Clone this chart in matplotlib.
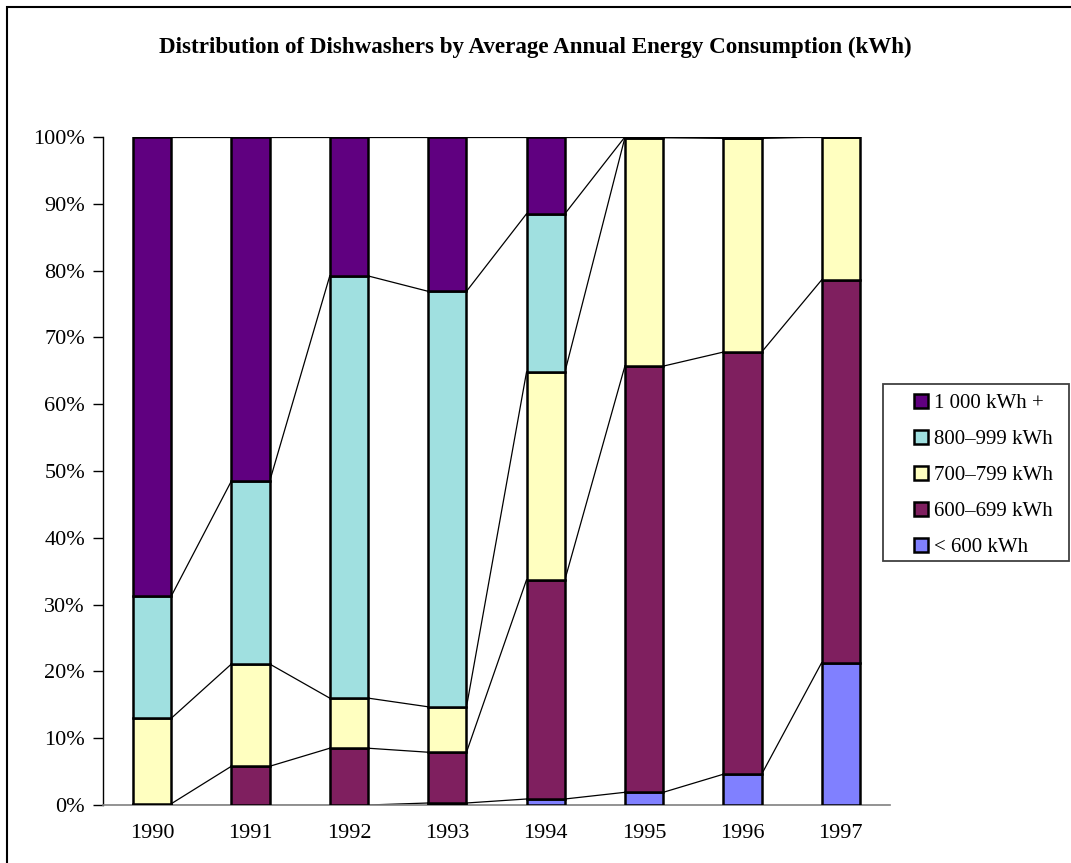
import numpy as np
import matplotlib.pyplot as plt
from matplotlib.patches import Rectangle

plt.rcParams['font.family'] = ['Liberation Serif', 'DejaVu Serif']

years = ['1990', '1991', '1992', '1993', '1994', '1995', '1996', '1997']
labels = ['< 600 kWh', '600\u2013699 kWh', '700\u2013799 kWh', '800\u2013999 kWh', '1 000 kWh +']
colors = ['#8080FF', '#7F1F5F', '#FFFFC0', '#A0E0E0', '#600080']

# shares in percent, bottom to top
under_600 = [0.0, 0.0, 0.0, 0.3, 0.9, 1.9, 4.6, 21.3]
k600_699 = [0.2, 5.8, 8.5, 7.6, 32.8, 63.8, 63.2, 57.3]
k700_799 = [12.8, 15.3, 7.5, 6.8, 31.1, 34.2, 32.0, 21.4]
k800_999 = [18.3, 27.4, 63.2, 62.2, 23.7, 0.1, 0.1, 0.0]
k1000_up = [68.7, 51.5, 20.8, 23.1, 11.5, 0.0, 0.1, 0.0]

series = [under_600, k600_699, k700_799, k800_999, k1000_up]

W, H = 1071, 863
fig = plt.figure(figsize=(W / 100, H / 100), dpi=100)
ax = fig.add_axes([103 / W, 1 - 805 / H, 787 / W, 668 / H])

x = np.arange(len(years))
w = 0.39
bottom = np.zeros(len(years))
handles = []
for vals, col, lab in zip(series, colors, labels):
    vals = np.array(vals)
    b = ax.bar(x, vals, w, bottom=bottom, color=col, edgecolor='black',
               linewidth=1.8, label=lab, zorder=3)
    handles.append(b)
    top = bottom + vals
    # series lines between bars
    for i in range(len(years) - 1):
        ax.plot([x[i] + w / 2, x[i + 1] - w / 2], [top[i], top[i + 1]],
                color='black', linewidth=0.9, zorder=2)
    bottom = top

ax.set_xlim(-0.5, len(years) - 0.5)
ax.set_ylim(0, 100)
ax.set_yticks(np.arange(0, 101, 10))
ax.set_yticklabels([f'{v}%' for v in range(0, 101, 10)])
ax.set_xticks(x)
ax.set_xticklabels(years)
ax.tick_params(axis='y', labelsize=16, length=7, width=1, direction='out', pad=6)
ax.tick_params(axis='x', labelsize=16, length=0, pad=14)
for s in ['top', 'right']:
    ax.spines[s].set_visible(False)
ax.spines['left'].set_linewidth(1)
ax.spines['bottom'].set_color('#808080')
ax.spines['bottom'].set_linewidth(1.2)

fig.text(0.5, 1 - 47 / H, 'Distribution of Dishwashers by Average Annual Energy Consumption (kWh)',
         ha='center', va='center', fontsize=16.6, fontweight='bold')

leg = fig.legend(handles[::-1], labels[::-1], loc='upper left',
                 bbox_to_anchor=(914 / W, 1 - 394 / H), fontsize=15,
                 frameon=False, handlelength=0.65, handleheight=0.65,
                 handletextpad=0.3, labelspacing=0.8, borderpad=0,
                 borderaxespad=0)

# legend frame
fig.patches.append(Rectangle((883 / W, 1 - 561 / H), 186 / W, 177 / H,
                             transform=fig.transFigure, fill=False,
                             edgecolor='#404040', linewidth=1.3))

# outer chart border (runs past right/bottom edges)
fig.patches.append(Rectangle((7 / W, -0.05), 1.2, 1 - 7 / H + 0.05,
                             transform=fig.transFigure, fill=False,
                             edgecolor='black', linewidth=1.5))

fig.savefig('out.png', dpi=100)
